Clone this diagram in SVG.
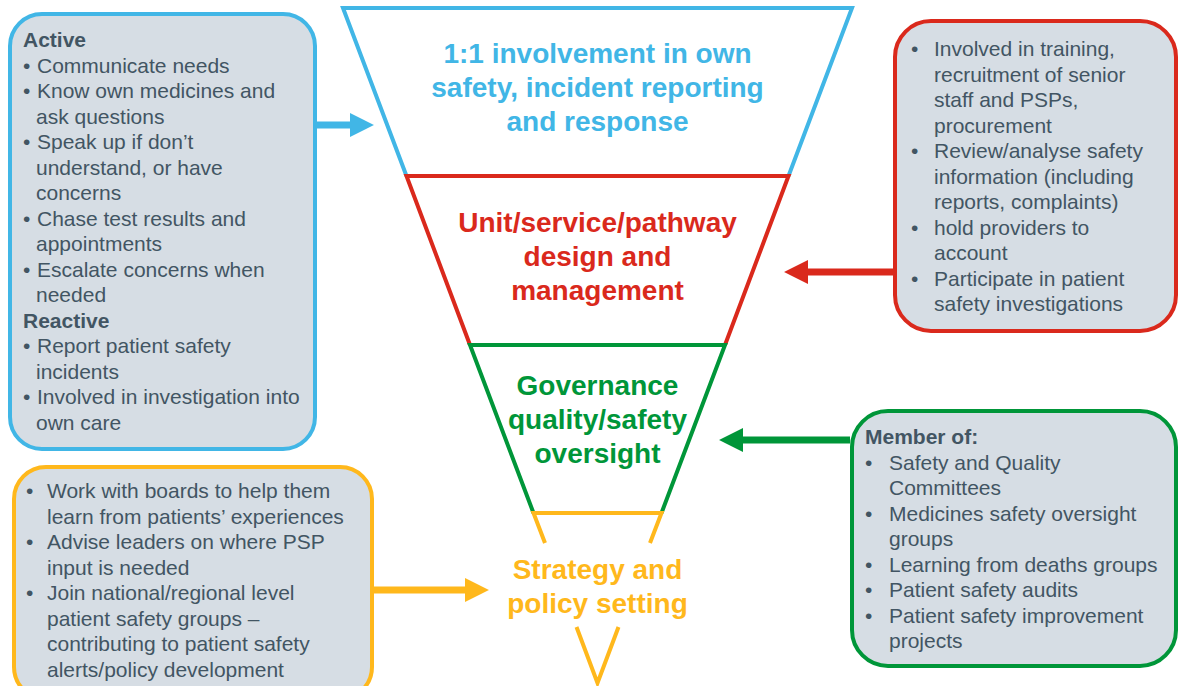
<svg xmlns="http://www.w3.org/2000/svg" width="1179" height="686" viewBox="0 0 1179 686">
<style>
.box{fill:#d6dde4;stroke-width:4}
.bt{font-family:"Liberation Sans",Arial,sans-serif;font-size:21px;fill:#425563}
.bh{font-weight:bold}
.ft{font-family:"Liberation Sans",Arial,sans-serif;font-size:28px;font-weight:bold;text-anchor:middle}
.fs{fill:none;stroke-width:4;stroke-linejoin:miter}
.ar{stroke-width:7;fill:none}
</style>
<defs>
<marker id="hb" markerUnits="userSpaceOnUse" markerWidth="24" markerHeight="24" viewBox="0 0 23 23" refX="1" refY="11.5" orient="auto"><path d="M0,0 L23,11.5 L0,23 z" fill="#41b6e6"/></marker>
<marker id="hr" markerUnits="userSpaceOnUse" markerWidth="24" markerHeight="24" viewBox="0 0 23 23" refX="1" refY="11.5" orient="auto"><path d="M0,0 L23,11.5 L0,23 z" fill="#da291c"/></marker>
<marker id="hg" markerUnits="userSpaceOnUse" markerWidth="24" markerHeight="24" viewBox="0 0 23 23" refX="1" refY="11.5" orient="auto"><path d="M0,0 L23,11.5 L0,23 z" fill="#009639"/></marker>
<marker id="hy" markerUnits="userSpaceOnUse" markerWidth="24" markerHeight="24" viewBox="0 0 23 23" refX="1" refY="11.5" orient="auto"><path d="M0,0 L23,11.5 L0,23 z" fill="#ffb81c"/></marker>
</defs>
<rect width="1179" height="686" fill="#ffffff"/>

<g id="funnel-blue">
<path class="fs" stroke="#41b6e6" d="M406.5,176 L343,8 L852,8 L788.5,176"/>
<text class="ft" fill="#41b6e6"><tspan x="597.5" y="63">1:1 involvement in own</tspan><tspan x="597.5" y="97">safety, incident reporting</tspan><tspan x="597.5" y="131">and response</tspan></text>
</g>
<g id="funnel-red">
<path class="fs" stroke="#da291c" d="M470,345 L406.5,176 L788.5,176 L725,345"/>
<text class="ft" fill="#da291c"><tspan x="597.5" y="232">Unit/service/pathway</tspan><tspan x="597.5" y="266">design and</tspan><tspan x="597.5" y="300">management</tspan></text>
</g>
<g id="funnel-green">
<path class="fs" stroke="#009639" d="M533.5,513 L470,345 L725,345 L661.5,513"/>
<text class="ft" fill="#009639"><tspan x="597.5" y="395">Governance</tspan><tspan x="597.5" y="429">quality/safety</tspan><tspan x="597.5" y="463">oversight</tspan></text>
</g>
<g id="funnel-yellow">
<path class="fs" stroke="#ffb81c" d="M545,543 L533.5,513 L661.5,513 L650,543"/>
<path class="fs" stroke="#ffb81c" d="M576.5,627 L597.5,683 L618.5,627"/>
<text class="ft" fill="#ffb81c"><tspan x="597.5" y="579">Strategy and</tspan><tspan x="597.5" y="613">policy setting</tspan></text>
</g>

<g id="box-patient">
<rect class="box" x="10" y="14" width="305" height="435" rx="32" stroke="#41b6e6"/>
<text class="bt">
<tspan class="bh" x="23" y="47">Active</tspan>
<tspan x="23" y="72.5">•</tspan><tspan x="37" y="72.5">Communicate needs</tspan>
<tspan x="23" y="98">•</tspan><tspan x="37" y="98">Know own medicines and</tspan>
<tspan x="36" y="123.5">ask questions</tspan>
<tspan x="23" y="149">•</tspan><tspan x="37" y="149">Speak up if don’t</tspan>
<tspan x="36" y="174.5">understand, or have</tspan>
<tspan x="36" y="200">concerns</tspan>
<tspan x="23" y="225.5">•</tspan><tspan x="37" y="225.5">Chase test results and</tspan>
<tspan x="36" y="251">appointments</tspan>
<tspan x="23" y="276.5">•</tspan><tspan x="37" y="276.5">Escalate concerns when</tspan>
<tspan x="36" y="302">needed</tspan>
<tspan class="bh" x="23" y="327.5">Reactive</tspan>
<tspan x="23" y="353">•</tspan><tspan x="37" y="353">Report patient safety</tspan>
<tspan x="36" y="378.5">incidents</tspan>
<tspan x="23" y="404">•</tspan><tspan x="37" y="404">Involved in investigation into</tspan>
<tspan x="36" y="429.5">own care</tspan>
</text>
</g>

<g id="box-unit">
<rect class="box" x="895" y="21" width="281" height="310" rx="36" stroke="#da291c"/>
<text class="bt">
<tspan x="911" y="56">•</tspan><tspan x="934" y="56">Involved in training,</tspan>
<tspan x="934" y="81.5">recruitment of senior</tspan>
<tspan x="934" y="107">staff and PSPs,</tspan>
<tspan x="934" y="132.5">procurement</tspan>
<tspan x="911" y="158">•</tspan><tspan x="934" y="158">Review/analyse safety</tspan>
<tspan x="934" y="183.5">information (including</tspan>
<tspan x="934" y="209">reports, complaints)</tspan>
<tspan x="911" y="234.5">•</tspan><tspan x="934" y="234.5">hold providers to</tspan>
<tspan x="934" y="260">account</tspan>
<tspan x="911" y="285.5">•</tspan><tspan x="934" y="285.5">Participate in patient</tspan>
<tspan x="934" y="311">safety investigations</tspan>
</text>
</g>

<g id="box-governance">
<rect class="box" x="852" y="411" width="324" height="255" rx="36" stroke="#009639"/>
<text class="bt">
<tspan class="bh" x="865" y="444">Member of:</tspan>
<tspan x="865" y="469.5">•</tspan><tspan x="889" y="469.5">Safety and Quality</tspan>
<tspan x="889" y="495">Committees</tspan>
<tspan x="865" y="520.5">•</tspan><tspan x="889" y="520.5">Medicines safety oversight</tspan>
<tspan x="889" y="546">groups</tspan>
<tspan x="865" y="571.5">•</tspan><tspan x="889" y="571.5">Learning from deaths groups</tspan>
<tspan x="865" y="597">•</tspan><tspan x="889" y="597">Patient safety audits</tspan>
<tspan x="865" y="622.5">•</tspan><tspan x="889" y="622.5">Patient safety improvement</tspan>
<tspan x="889" y="648">projects</tspan>
</text>
</g>

<g id="box-strategy">
<rect class="box" x="14" y="467" width="358" height="232" rx="32" stroke="#ffb81c"/>
<text class="bt">
<tspan x="26" y="498">•</tspan><tspan x="47" y="498">Work with boards to help them</tspan>
<tspan x="47" y="523.5">learn from patients’ experiences</tspan>
<tspan x="26" y="549">•</tspan><tspan x="47" y="549">Advise leaders on where PSP</tspan>
<tspan x="47" y="574.5">input is needed</tspan>
<tspan x="26" y="600">•</tspan><tspan x="47" y="600">Join national/regional level</tspan>
<tspan x="47" y="625.5">patient safety groups –</tspan>
<tspan x="47" y="651">contributing to patient safety</tspan>
<tspan x="47" y="676.5">alerts/policy development</tspan>
</text>
</g>

<g id="connectors">
<line class="ar" stroke="#41b6e6" x1="317" y1="125" x2="351" y2="125" marker-end="url(#hb)"/>
<line class="ar" stroke="#da291c" x1="893" y1="272" x2="807" y2="272" marker-end="url(#hr)"/>
<line class="ar" stroke="#009639" x1="850" y1="440" x2="742" y2="440" marker-end="url(#hg)"/>
<line class="ar" stroke="#ffb81c" x1="374" y1="590" x2="466" y2="590" marker-end="url(#hy)"/>
</g>
</svg>
